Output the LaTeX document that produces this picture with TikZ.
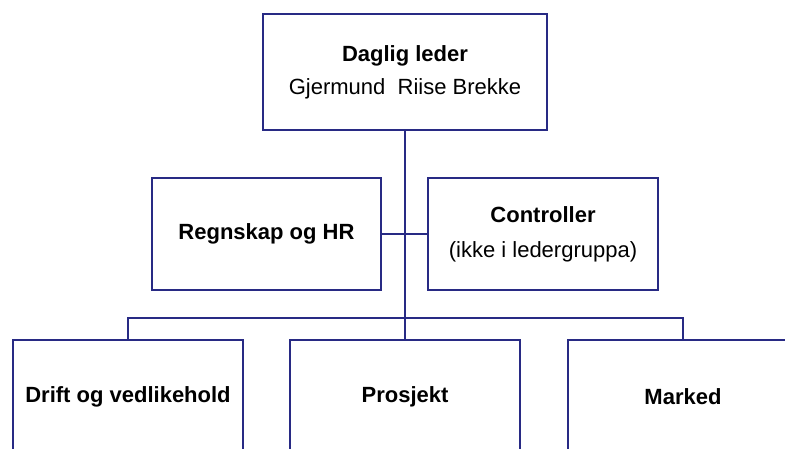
\documentclass[tikz,border=0pt]{standalone}
\usepackage{fontspec}
\setmainfont{Liberation Sans}
\definecolor{orgline}{RGB}{40,42,132}
\begin{document}
\begin{tikzpicture}[x=0.75pt,y=-0.75pt,
  orgbox/.style={draw=orgline,line width=1.5pt,fill=white,inner sep=0pt,
    align=center,font=\fontsize{16.5}{25}\selectfont},
  link/.style={draw=orgline,line width=1.5pt}]
\useasboundingbox[clip] (0,0) rectangle (785,449);
\fill[white] (0,0) rectangle (785,449);
% top level
\node[orgbox,minimum width=213pt,minimum height=87pt] (top) at (405,72)
  {\textbf{Daglig leder}\\Gjermund\ \ Riise Brekke};
% staff level
\node[orgbox,minimum width=172pt,minimum height=84pt] (regn) at (266.5,234)
  {\textbf{Regnskap og HR}};
\node[orgbox,minimum width=172pt,minimum height=84pt,font=\fontsize{16.5}{26}\selectfont] (ctrl) at (543,234)
  {\textbf{Controller}\\(ikke i ledergruppa)};
% line departments
\node[orgbox,minimum width=172.5pt,minimum height=85.5pt] (drift) at (128,397)
  {\textbf{Drift og vedlikehold}};
\node[orgbox,minimum width=172.5pt,minimum height=85.5pt] (prosj) at (405,397)
  {\textbf{Prosjekt}};
\node[orgbox,minimum width=172.5pt,minimum height=85.5pt] (marked) at (683,397)
  {\textbf{Marked}};
\coordinate (bus) at (405,318);
% connectors
\draw[link] (top.south) -- (prosj.north);
\draw[link] (regn.east) -- (ctrl.west);
\draw[link] (drift.north) |- (bus) -| (marked.north);
\end{tikzpicture}
\end{document}
